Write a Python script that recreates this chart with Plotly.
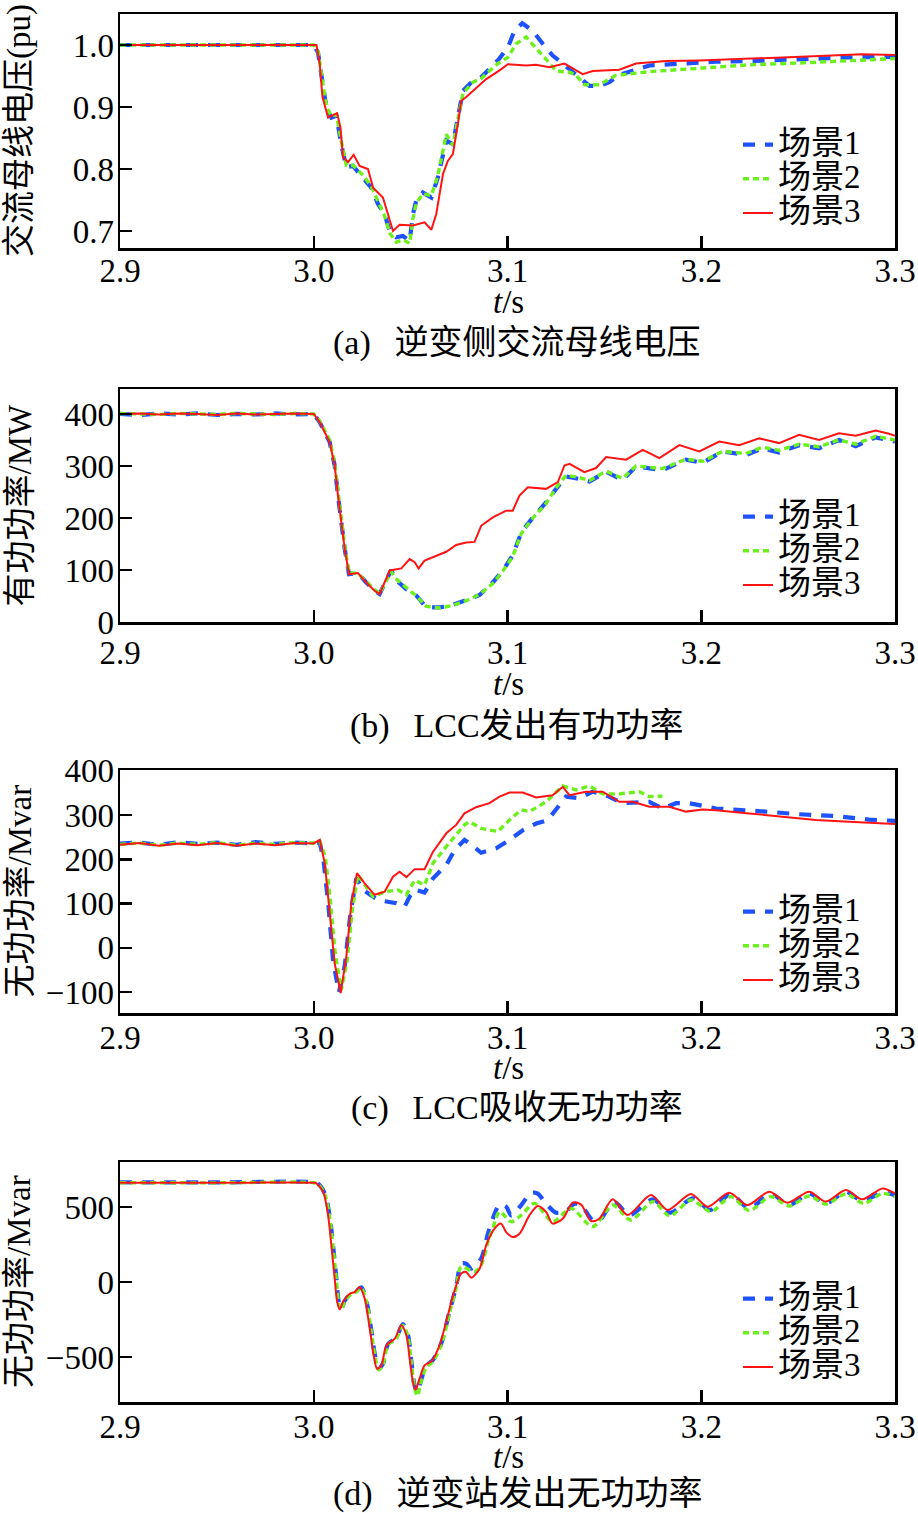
import plotly.graph_objects as go

# ---------------- data ----------------
# Panel (a): AC bus voltage (pu)
tA1 = [2.90, 3.000, 3.0022, 3.0040, 3.0057, 3.0066, 3.0091, 3.0117, 3.0142, 3.0168, 3.0202, 3.0254, 3.0297,
       3.0331, 3.0366, 3.0392, 3.0426, 3.0460, 3.0495, 3.0512, 3.0529, 3.0563, 3.0607, 3.0641, 3.0667, 3.0684,
       3.0718, 3.0744, 3.0770, 3.0821, 3.0864, 3.0899, 3.0950, 3.1002, 3.1036, 3.1076, 3.1130, 3.1182, 3.1233,
       3.1285, 3.1354, 3.1423, 3.1474, 3.1526, 3.1577, 3.1732, 3.1900, 3.2076, 3.2247, 3.2505, 3.2763, 3.3000]
vA1 = [1.000, 1.000, 0.988, 0.948, 0.921, 0.897, 0.883, 0.886, 0.840, 0.803, 0.805, 0.787, 0.770,
       0.744, 0.727, 0.700, 0.690, 0.692, 0.684, 0.727, 0.749, 0.762, 0.754, 0.787, 0.824, 0.846,
       0.840, 0.883, 0.926, 0.942, 0.948, 0.959, 0.975, 0.996, 1.023, 1.035, 1.023, 1.002, 0.983,
       0.970, 0.951, 0.934, 0.934, 0.940, 0.952, 0.967, 0.970, 0.973, 0.974, 0.977, 0.980, 0.981]
tA2 = [2.90, 3.000, 3.0022, 3.0040, 3.0057, 3.0066, 3.0091, 3.0117, 3.0142, 3.0168, 3.0202, 3.0254, 3.0297,
       3.0331, 3.0366, 3.0392, 3.0426, 3.0460, 3.0495, 3.0512, 3.0529, 3.0563, 3.0607, 3.0641, 3.0667, 3.0684,
       3.0718, 3.0744, 3.0770, 3.0821, 3.0864, 3.0899, 3.0950, 3.1002, 3.1045, 3.1096, 3.1147, 3.1199, 3.1251,
       3.1320, 3.1354, 3.1397, 3.1474, 3.1560, 3.1732, 3.1900, 3.2076, 3.2247, 3.2505, 3.2763, 3.3000]
vA2 = [1.000, 1.000, 0.990, 0.952, 0.925, 0.900, 0.885, 0.888, 0.845, 0.806, 0.806, 0.790, 0.772,
       0.747, 0.724, 0.697, 0.682, 0.686, 0.680, 0.720, 0.745, 0.760, 0.757, 0.790, 0.830, 0.856,
       0.838, 0.880, 0.922, 0.940, 0.946, 0.956, 0.970, 0.980, 1.002, 1.013, 0.996, 0.977, 0.958,
       0.956, 0.951, 0.936, 0.936, 0.951, 0.957, 0.961, 0.965, 0.968, 0.971, 0.975, 0.978]
tA3 = [2.90, 3.0014, 3.0031, 3.0045, 3.0074, 3.0120, 3.0138, 3.0151, 3.0177, 3.0206, 3.0237, 3.0280, 3.0306,
       3.0357, 3.0383, 3.0409, 3.0443, 3.0512, 3.0572, 3.0607, 3.0632, 3.0667, 3.0692, 3.0718, 3.0744, 3.0761,
       3.0787, 3.0821, 3.0890, 3.0959, 3.1002, 3.1096, 3.1147, 3.1216, 3.1294, 3.1388, 3.1440, 3.1577, 3.1663,
       3.1818, 3.1990, 3.2419, 3.2831, 3.3000]
vA3 = [1.000, 1.000, 0.969, 0.916, 0.883, 0.890, 0.867, 0.819, 0.811, 0.823, 0.805, 0.800, 0.770,
       0.754, 0.727, 0.700, 0.710, 0.709, 0.714, 0.702, 0.727, 0.792, 0.813, 0.824, 0.873, 0.910,
       0.916, 0.926, 0.945, 0.959, 0.969, 0.967, 0.968, 0.964, 0.970, 0.953, 0.958, 0.960, 0.970,
       0.974, 0.975, 0.980, 0.985, 0.984]

# Panel (b): LCC active power (MW)
tB1 = [2.900, 2.910, 2.920, 2.930, 2.940, 2.950, 2.960, 2.970, 2.980, 2.990, 3.000,
       3.0031, 3.0082, 3.0108, 3.0125, 3.0142, 3.0160, 3.0182, 3.0228, 3.0271, 3.0314, 3.0340, 3.0366, 3.0400,
       3.0418, 3.0478, 3.0529, 3.0581, 3.0649, 3.0718, 3.0787, 3.0856, 3.0924, 3.0976, 3.1027, 3.1071, 3.1131,
       3.1199, 3.1251, 3.1302, 3.1371, 3.1423, 3.1509, 3.1594, 3.1663, 3.1800, 3.1921, 3.2007, 3.2110, 3.2230,
       3.2316, 3.2402, 3.2505, 3.2608, 3.2711, 3.2797, 3.2900, 3.3000]
vB1 = [400, 398, 401, 399, 401, 398, 400, 399, 401, 399, 400,
       384, 346, 301, 243, 192, 140, 92, 94, 76, 60, 54, 76, 100,
       83, 63, 51, 28, 28, 33, 42, 52, 76, 99, 128, 172, 201,
       230, 256, 280, 275, 270, 289, 273, 299, 292, 312, 306, 328, 321,
       334, 326, 340, 334, 350, 338, 355, 347]
vB2 = [401, 400, 399, 401, 400, 399, 401, 400, 399, 401, 400,
       386, 350, 305, 250, 198, 145, 95, 93, 78, 62, 55, 72, 97,
       85, 65, 50, 30, 27, 32, 41, 53, 74, 98, 126, 170, 200,
       228, 258, 282, 278, 272, 290, 276, 300, 295, 313, 309, 328, 324,
       336, 330, 342, 337, 350, 342, 357, 350]
tB3 = [2.900, 2.910, 2.920, 2.930, 2.940, 2.950, 2.960, 2.970, 2.980, 2.990, 3.000,
       3.0031, 3.0082, 3.0108, 3.0125, 3.0142, 3.0160, 3.0182, 3.0228, 3.0271, 3.0314, 3.0340, 3.0366,
       3.0392, 3.0452, 3.0495, 3.0521, 3.0541, 3.0572, 3.0615, 3.0684, 3.0735, 3.0787, 3.0830, 3.0864,
       3.0924, 3.0993, 3.1027, 3.1062, 3.1105, 3.1199, 3.1260, 3.1294, 3.1320, 3.1397, 3.1457, 3.1509,
       3.1612, 3.1698, 3.1784, 3.1887, 3.1990, 3.2093, 3.2196, 3.2299, 3.2402, 3.2505, 3.2608, 3.2711,
       3.2797, 3.2900, 3.2969, 3.3000]
vB3 = [400, 401, 399, 401, 400, 398, 401, 399, 400, 401, 400,
       384, 346, 301, 243, 192, 140, 92, 94, 76, 60, 54, 76,
       99, 103, 121, 115, 103, 118, 124, 135, 148, 153, 154, 185,
       201, 214, 214, 243, 259, 256, 269, 301, 304, 288, 296, 317,
       312, 331, 315, 340, 328, 347, 340, 353, 344, 360, 350, 363,
       358, 368, 362, 358]

# Panel (c): LCC reactive power absorbed (Mvar)
tC_pre = [2.900, 2.910, 2.920, 2.930, 2.940, 2.950, 2.960, 2.970, 2.980, 2.990, 3.000]
vC_pre1 = [236, 238, 233, 239, 235, 238, 233, 239, 235, 238, 236]
vC_pre2 = [234, 237, 232, 237, 234, 238, 232, 237, 234, 238, 237]
vC_pre3 = [233, 237, 231, 236, 232, 237, 231, 236, 232, 237, 236]
tC1 = tC_pre + [3.0031, 3.0050, 3.0075, 3.0100, 3.0130, 3.0160, 3.0190, 3.0220, 3.0254, 3.0333, 3.0427,
                3.0469, 3.0495, 3.0521, 3.0572, 3.0615, 3.0684, 3.0727, 3.0778, 3.0804, 3.0864, 3.0941,
                3.1010, 3.1079, 3.1148, 3.1208, 3.1259, 3.1302, 3.1371, 3.1440, 3.1509, 3.1594, 3.1732,
                3.1801, 3.1870, 3.1938, 3.2076, 3.2162, 3.2333, 3.2505, 3.2694, 3.2866, 3.3000]
vC1 = vC_pre1 + [238, 200, 100, -30, -100, -40, 80, 158, 131, 108, 101,
                 93, 116, 132, 125, 157, 187, 221, 244, 236, 215, 225,
                 244, 266, 281, 289, 319, 342, 338, 353, 345, 327, 330,
                 315, 327, 327, 315, 313, 308, 302, 298, 290, 287]
tC2 = tC_pre + [3.0031, 3.0060, 3.0085, 3.0110, 3.0142, 3.0172, 3.0200, 3.0228, 3.0306, 3.0366, 3.0435,
                3.0478, 3.0521, 3.0572, 3.0615, 3.0684, 3.0735, 3.0778, 3.0804, 3.0864, 3.0950, 3.1010,
                3.1070, 3.1113, 3.1199, 3.1285, 3.1354, 3.1423, 3.1491, 3.1577, 3.1680, 3.1732, 3.1800]
vC2 = vC_pre2 + [242, 205, 110, -10, -95, -30, 90, 165, 116, 127, 131,
                 120, 153, 142, 191, 229, 255, 278, 285, 270, 263, 289,
                 312, 308, 330, 366, 357, 366, 348, 348, 353, 342, 343]
tC3 = tC_pre + [3.0031, 3.0057, 3.0082, 3.0108, 3.0139, 3.0168, 3.0194, 3.0223, 3.0263, 3.0314, 3.0366,
                3.0409, 3.0443, 3.0478, 3.0521, 3.0572, 3.0615, 3.0684, 3.0735, 3.0778, 3.0838, 3.0907,
                3.0959, 3.1010, 3.1079, 3.1148, 3.1233, 3.1285, 3.1320, 3.1405, 3.1491, 3.1577, 3.1646,
                3.1732, 3.1835, 3.1921, 3.2007, 3.2076, 3.2247, 3.2419, 3.2591, 3.2763, 3.3000]
vC3 = vC_pre3 + [244, 191, 86, -35, -102, -20, 101, 169, 146, 120, 127,
                 161, 172, 160, 178, 178, 217, 259, 278, 304, 318, 327,
                 342, 351, 351, 340, 345, 364, 345, 353, 353, 330, 330,
                 319, 319, 308, 313, 311, 304, 296, 289, 285, 280]

# Panel (d): inverter station reactive power output (Mvar)
tD1 = [2.900, 2.950, 3.0000, 3.0022, 3.0057, 3.0082, 3.0100, 3.0117, 3.0130, 3.0142, 3.0160, 3.0194,
       3.0220, 3.0245, 3.0271, 3.0297, 3.0318, 3.0336, 3.0357, 3.0383, 3.0426, 3.0460, 3.0486, 3.0503,
       3.0520, 3.0535, 3.0555, 3.0580, 3.0615, 3.0658, 3.0700, 3.0735, 3.0761, 3.0787, 3.0813, 3.0864,
       3.0899, 3.0924, 3.0959, 3.0993, 3.1019, 3.1070, 3.1122, 3.1156, 3.1199, 3.1251, 3.1302, 3.1345,
       3.1380, 3.1440, 3.1474, 3.1552, 3.1629, 3.1751, 3.1838, 3.1959, 3.2046, 3.2153, 3.2247, 3.2359,
       3.2454, 3.2557, 3.2643, 3.2746, 3.2831, 3.2935, 3.3000]
vD1 = [665, 664, 665, 655, 590, 440, 240, 20, -140, -180, -125, -75,
       -62, -35, -120, -320, -500, -575, -545, -415, -370, -280, -350, -520,
       -690, -735, -650, -560, -520, -410, -200, -30, 122, 122, 89, 156,
       322, 422, 516, 502, 444, 511, 596, 589, 522, 462, 471, 522,
       511, 411, 411, 533, 447, 551, 462, 558, 480, 587, 491, 587,
       513, 591, 524, 602, 542, 595, 580]
tD2 = [2.900, 2.950, 3.0000, 3.0022, 3.0057, 3.0082, 3.0100, 3.0117, 3.0130, 3.0142, 3.0160, 3.0194,
       3.0220, 3.0245, 3.0271, 3.0297, 3.0318, 3.0336, 3.0357, 3.0383, 3.0426, 3.0460, 3.0486, 3.0503,
       3.0520, 3.0535, 3.0555, 3.0580, 3.0615, 3.0658, 3.0700, 3.0735, 3.0761, 3.0830, 3.0864, 3.0899,
       3.0924, 3.0959, 3.1019, 3.1070, 3.1139, 3.1233, 3.1328, 3.1440, 3.1543, 3.1637, 3.1751, 3.1838,
       3.1947, 3.2050, 3.2153, 3.2247, 3.2359, 3.2454, 3.2557, 3.2643, 3.2746, 3.2840, 3.2935, 3.3000]
vD2 = [662, 661, 662, 652, 585, 430, 230, 10, -150, -185, -130, -80,
       -66, -40, -125, -330, -510, -585, -552, -420, -378, -290, -360, -530,
       -700, -760, -660, -570, -530, -420, -210, -40, 102, 69, 111, 267,
       356, 469, 402, 444, 524, 402, 491, 369, 513, 413, 536, 440,
       547, 469, 569, 476, 569, 507, 573, 520, 587, 524, 591, 569]
tD3 = [2.900, 2.950, 3.0000, 3.0014, 3.0049, 3.0074, 3.0091, 3.0108, 3.0121, 3.0134, 3.0151, 3.0186,
       3.0211, 3.0237, 3.0263, 3.0289, 3.0309, 3.0327, 3.0349, 3.0375, 3.0418, 3.0452, 3.0478, 3.0495,
       3.0512, 3.0526, 3.0546, 3.0572, 3.0607, 3.0649, 3.0692, 3.0727, 3.0761, 3.0787, 3.0813, 3.0856,
       3.0890, 3.0933, 3.0967, 3.0993, 3.1027, 3.1062, 3.1113, 3.1156, 3.1199, 3.1233, 3.1285, 3.1337,
       3.1380, 3.1431, 3.1474, 3.1543, 3.1620, 3.1741, 3.1826, 3.1947, 3.2033, 3.2144, 3.2239, 3.2351,
       3.2445, 3.2557, 3.2643, 3.2746, 3.2831, 3.2935, 3.3000]
vD3 = [662, 661, 662, 658, 600, 444, 244, 22, -133, -182, -133, -78,
       -67, -33, -111, -311, -489, -578, -556, -422, -378, -289, -356, -511,
       -667, -718, -644, -556, -529, -422, -222, -56, 56, 67, 29, 89,
       244, 356, 389, 333, 300, 322, 444, 507, 467, 389, 422, 529,
       516, 407, 422, 551, 447, 580, 480, 587, 502, 595, 513, 602,
       529, 602, 536, 613, 551, 624, 591]

x_ticks = [2.9, 3.0, 3.1, 3.2, 3.3]
x_ticktext = ["2.9", "3.0", "3.1", "3.2", "3.3"]
series_names = ["场景1", "场景2", "场景3"]

# ---------------- styling ----------------
W, H = 918, 1513
FONT = "Liberation Serif, Times New Roman, Noto Sans CJK SC, serif"
FS = 33
BLUE = "#1f52ff"
GREEN = "#6cf01c"
RED = "#ff1414"


def px(y):
    return 1 - y / H


panels = [
    dict(data=[(tA1, vA1), (tA2, vA2), (tA3, vA3)], top=14, bottom=248, yr=[0.6726, 1.05],
         yt=[0.7, 0.8, 0.9, 1.0], ytt=["0.7", "0.8", "0.9", "1.0"], ytitle="交流母线电压(pu)",
         cap="(a)\u00a0\u00a0\u2009逆变侧交流母线电压", t_y=302, cap_y=343, leg_y=179, shape="linear",
         xstand=-8),
    dict(data=[(tB1, vB1), (tB1, vB2), (tB3, vB3)], top=389, bottom=622, yr=[0, 448],
         yt=[0, 100, 200, 300, 400], ytt=["0", "100", "200", "300", "400"], ytitle="有功功率/MW",
         cap="(b)\u00a0\u00a0\u2009LCC发出有功功率", t_y=684, cap_y=726, leg_y=551, shape="linear",
         xstand=0),
    dict(data=[(tC1, vC1), (tC2, vC2), (tC3, vC3)], top=770, bottom=1013, yr=[-147, 402],
         yt=[-100, 0, 100, 200, 300, 400], ytt=["\u2212100", "0", "100", "200", "300", "400"],
         ytitle="无功功率/Mvar", cap="(c)\u00a0\u00a0\u2009LCC吸收无功功率", t_y=1068, cap_y=1108,
         leg_y=946, shape="linear", xstand=-6),
    dict(data=[(tD1, vD1), (tD2, vD2), (tD3, vD3)], top=1162, bottom=1402, yr=[-800, 800],
         yt=[-500, 0, 500], ytt=["\u2212500", "0", "500"], ytitle="无功功率/Mvar",
         cap="(d)\u00a0\u00a0\u2009逆变站发出无功功率", t_y=1457, cap_y=1494, leg_y=1333, shape="spline",
         xstand=-6),
]

styles = [
    dict(color=BLUE, width=4.2, dash="12px,10px"),
    dict(color=GREEN, width=3.4, dash="6px,4px"),
    dict(color=RED, width=2.0, dash="solid"),
]

fig = go.Figure()
annotations = []
layout = dict(
    width=W, height=H, margin=dict(l=0, r=0, t=0, b=0, autoexpand=False),
    paper_bgcolor="white", plot_bgcolor="white",
    font=dict(family=FONT, size=FS, color="black"),
)

for i, p in enumerate(panels, start=1):
    xa = "x" if i == 1 else f"x{i}"
    ya = "y" if i == 1 else f"y{i}"
    leg = "legend" if i == 1 else f"legend{i}"
    for (t, v), st, nm in zip(p["data"], styles, series_names):
        fig.add_trace(go.Scatter(
            x=t, y=v, mode="lines", name=f'<span style="font-size:33px">{nm}</span>',
            xaxis=xa, yaxis=ya, legend=leg,
            line=dict(color=st["color"], width=st["width"], dash=st["dash"],
                      shape=p["shape"], smoothing=0.8 if p["shape"] == "spline" else None),
        ))
    axcommon = dict(showline=True, linewidth=2.5, linecolor="black", mirror=True, ticks="inside",
                    ticklen=12, tickwidth=2.5, tickcolor="black", showgrid=False, zeroline=False,
                    automargin=False,
                    tickfont=dict(family=FONT, size=FS, color="black"), fixedrange=True)
    layout["xaxis" if i == 1 else f"xaxis{i}"] = dict(
        domain=[120 / W, 895 / W], range=[2.9, 3.3], tickvals=x_ticks, ticktext=x_ticktext,
        anchor=ya, ticklabelstandoff=p["xstand"], **axcommon)
    layout["yaxis" if i == 1 else f"yaxis{i}"] = dict(
        domain=[px(p["bottom"]), px(p["top"])], range=p["yr"], tickvals=p["yt"], ticktext=p["ytt"],
        anchor=xa, ticklabelstandoff=-3, **axcommon)
    layout[leg] = dict(x=738 / W, y=px(p["leg_y"]), xanchor="left", yanchor="middle",
                       bgcolor="rgba(0,0,0,0)", borderwidth=0, tracegroupgap=0,
                       font=dict(family=FONT, size=24, color="black"))
    mid = (p["top"] + p["bottom"]) / 2
    annotations.append(dict(text=p["ytitle"], x=19 / W, y=px(mid), xref="paper", yref="paper",
                            textangle=-90, showarrow=False, xanchor="center", yanchor="middle",
                            font=dict(family=FONT, size=33, color="black")))
    annotations.append(dict(text="<i>t</i>/s", x=508 / W, y=px(p["t_y"]), xref="paper", yref="paper",
                            showarrow=False, xanchor="center", yanchor="middle",
                            font=dict(family=FONT, size=FS, color="black")))
    annotations.append(dict(text=p["cap"], x=517 / W, y=px(p["cap_y"]), xref="paper", yref="paper",
                            showarrow=False, xanchor="center", yanchor="middle",
                            font=dict(family=FONT, size=34, color="black")))

layout["annotations"] = annotations
fig.update_layout(**layout)
fig.write_html(
    "out.html",
    config={"displayModeBar": False, "staticPlot": True},
    post_script="document.body.style.margin='0';document.body.style.overflow='hidden';",
)
